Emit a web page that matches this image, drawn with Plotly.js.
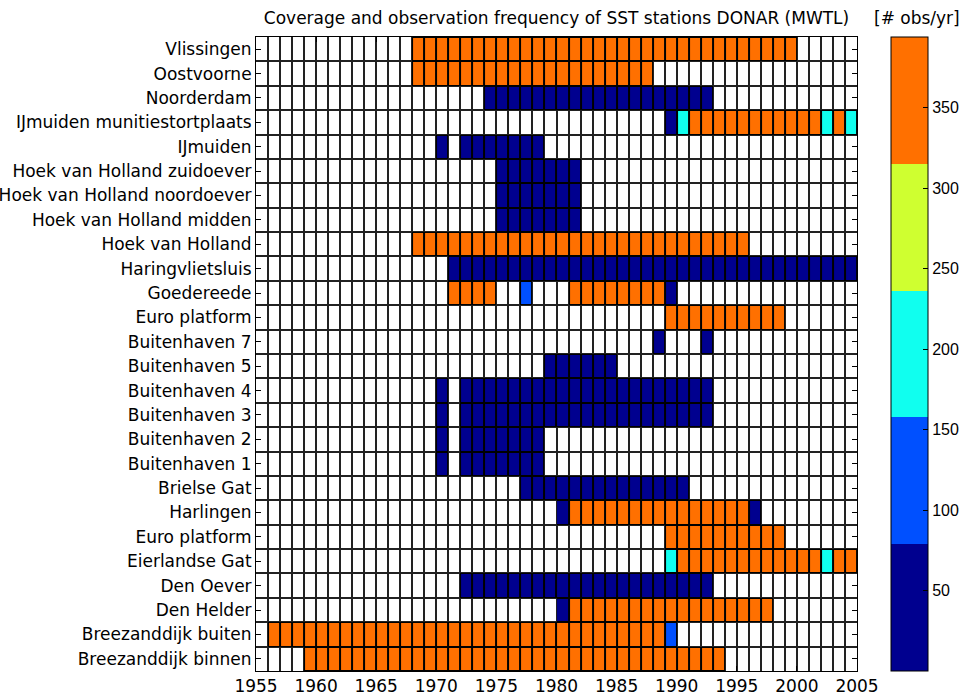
<!DOCTYPE html>
<html>
<head>
<meta charset="utf-8">
<script src="https://cdn.plot.ly/plotly-3.0.1.min.js"></script>
<style>html,body{margin:0;padding:0;background:#fff;}#chart{width:961px;height:698px;}</style>
</head>
<body>
<div id="chart"></div>
<script>
// ---- data ----
const years = [1956,1957,1958,1959,1960,1961,1962,1963,1964,1965,1966,1967,1968,1969,1970,
  1971,1972,1973,1974,1975,1976,1977,1978,1979,1980,1981,1982,1983,1984,1985,1986,1987,1988,
  1989,1990,1991,1992,1993,1994,1995,1996,1997,1998,1999,2000,2001,2002,2003,2004];
const stations = ["Vlissingen","Oostvoorne","Noorderdam","IJmuiden munitiestortplaats","IJmuiden",
  "Hoek van Holland zuidoever","Hoek van Holland noordoever","Hoek van Holland midden","Hoek van Holland",
  "Haringvlietsluis","Goedereede","Euro platform","Buitenhaven 7","Buitenhaven 5","Buitenhaven 4",
  "Buitenhaven 3","Buitenhaven 2","Buitenhaven 1","Brielse Gat","Harlingen","Euro platform",
  "Eierlandse Gat","Den Oever","Den Helder","Breezanddijk buiten","Breezanddijk binnen"];
// observation counts per year: runs of [firstYear, lastYear, obs/yr]
const coverage = [
  [[1968,1999,365]],
  [[1968,1987,365]],
  [[1974,1992,12]],
  [[1989,1989,12],[1990,1990,200],[1991,2001,365],[2002,2002,200],[2003,2003,365],[2004,2004,200]],
  [[1970,1970,12],[1972,1978,12]],
  [[1975,1981,12]],
  [[1975,1981,12]],
  [[1975,1981,12]],
  [[1968,1995,365]],
  [[1971,2004,12]],
  [[1971,1974,365],[1977,1977,110],[1981,1988,365],[1989,1989,12]],
  [[1989,1998,365]],
  [[1988,1988,12],[1992,1992,12]],
  [[1979,1984,12]],
  [[1970,1970,12],[1972,1992,12]],
  [[1970,1970,12],[1972,1992,12]],
  [[1970,1970,12],[1972,1978,12]],
  [[1970,1970,12],[1972,1978,12]],
  [[1977,1990,12]],
  [[1980,1980,12],[1981,1995,365],[1996,1996,12]],
  [[1989,1998,365]],
  [[1989,1989,200],[1990,2001,365],[2002,2002,200],[2003,2004,365]],
  [[1972,1992,12]],
  [[1980,1980,12],[1981,1997,365]],
  [[1956,1988,365],[1989,1989,110]],
  [[1959,1993,365]]
];
const colorTicks = [50,100,150,200,250,300,350];
const xTicks = [1955,1960,1965,1970,1975,1980,1985,1990,1995,2000,2005];
const cRange = [0,394];
const levelColors = ["#00008F","#0050FF","#10FFEF","#CFFF30","#FF7000"];

// ---- build matrix ----
const z = coverage.map(rs => years.map(y => {
  for (const r of rs) { if (y >= r[0] && y <= r[1]) return r[2]; }
  return null;
}));
const xEdges = years.concat([years[years.length-1]+1]);
const yIdx = stations.map((s,i)=>i);

const cs = [];
levelColors.forEach((c,i)=>{ cs.push([i/levelColors.length,c]); cs.push([(i+1)/levelColors.length,c]); });

const FONT = {family:"DejaVu Sans, Arial, sans-serif", size:17, color:"#000"};
const CBFONT = {family:"Liberation Sans, Arial, sans-serif", size:16, color:"#000"};
const GRID = "#222";

// black edges under the filled cells
const edges = {
  type:"heatmap", x:xEdges, y:yIdx, z:z, zmin:cRange[0], zmax:cRange[1],
  colorscale:[[0,"#000"],[1,"#000"]], showscale:false, hoverinfo:"skip"
};
const trace = {
  type:"heatmap", x:xEdges, y:yIdx, z:z,
  zmin:cRange[0], zmax:cRange[1], colorscale:cs,
  xgap:2, ygap:2, hoverinfo:"skip",
  colorbar:{
    x:(891-256)/601, xanchor:"left", xpad:0, y:0.5, yanchor:"middle", ypad:0,
    len:1, lenmode:"fraction", thickness:37, outlinewidth:1, outlinecolor:"#000",
    tickmode:"array", tickvals:colorTicks, ticks:"inside", ticklen:5, tickcolor:"#000",
    tickfont:CBFONT
  }
};

const layout = {
  width:961, height:698,
  margin:{l:256, r:104, t:37, b:27, pad:0, autoexpand:false},
  paper_bgcolor:"#fff", plot_bgcolor:"#fff",
  font:FONT,
  title:{text:"Coverage and observation frequency of SST stations DONAR (MWTL)",
    x:(256+857)/2/961, xanchor:"center", y:1-18/698, yanchor:"middle",
    font:{family:FONT.family, size:17, color:"#000"}},
  xaxis:{range:[xTicks[0], xTicks[xTicks.length-1]], tickmode:"array", tickvals:xTicks,
    ticks:"inside", ticklen:5, tickcolor:"#000", showline:true, linecolor:"#000", linewidth:1,
    mirror:"ticks", showgrid:true, gridcolor:GRID, gridwidth:2, zeroline:false,
    layer:"below traces", tickfont:FONT, fixedrange:true, automargin:false,
    minor:{tickmode:"linear", tick0:years[0], dtick:1, showgrid:true, gridcolor:GRID, gridwidth:2, ticks:""}},
  yaxis:{range:[stations.length-0.5, -0.5], tickmode:"array", tickvals:yIdx, ticktext:stations,
    ticks:"inside", ticklen:5, tickcolor:"#000", showline:true, linecolor:"#000", linewidth:1,
    mirror:"ticks", showgrid:false, zeroline:false, layer:"below traces", tickfont:FONT, fixedrange:true,
    automargin:false,
    minor:{tickmode:"linear", tick0:0.5, dtick:1, showgrid:true, gridcolor:GRID, gridwidth:2, ticks:""}},
  shapes:[{type:"rect", layer:"between", xref:"x", yref:"paper",
    x0:xTicks[0], x1:years[0], y0:0, y1:1, fillcolor:"#fff", line:{width:0}}],
  annotations:[{text:"[# obs/yr]", xref:"paper", yref:"paper", x:(917-256)/601, y:1+(37-18)/634,
    xanchor:"center", yanchor:"middle", showarrow:false, font:FONT}]
};

Plotly.newPlot("chart",[edges, trace],layout,{displayModeBar:false, staticPlot:true});
</script>
</body>
</html>
